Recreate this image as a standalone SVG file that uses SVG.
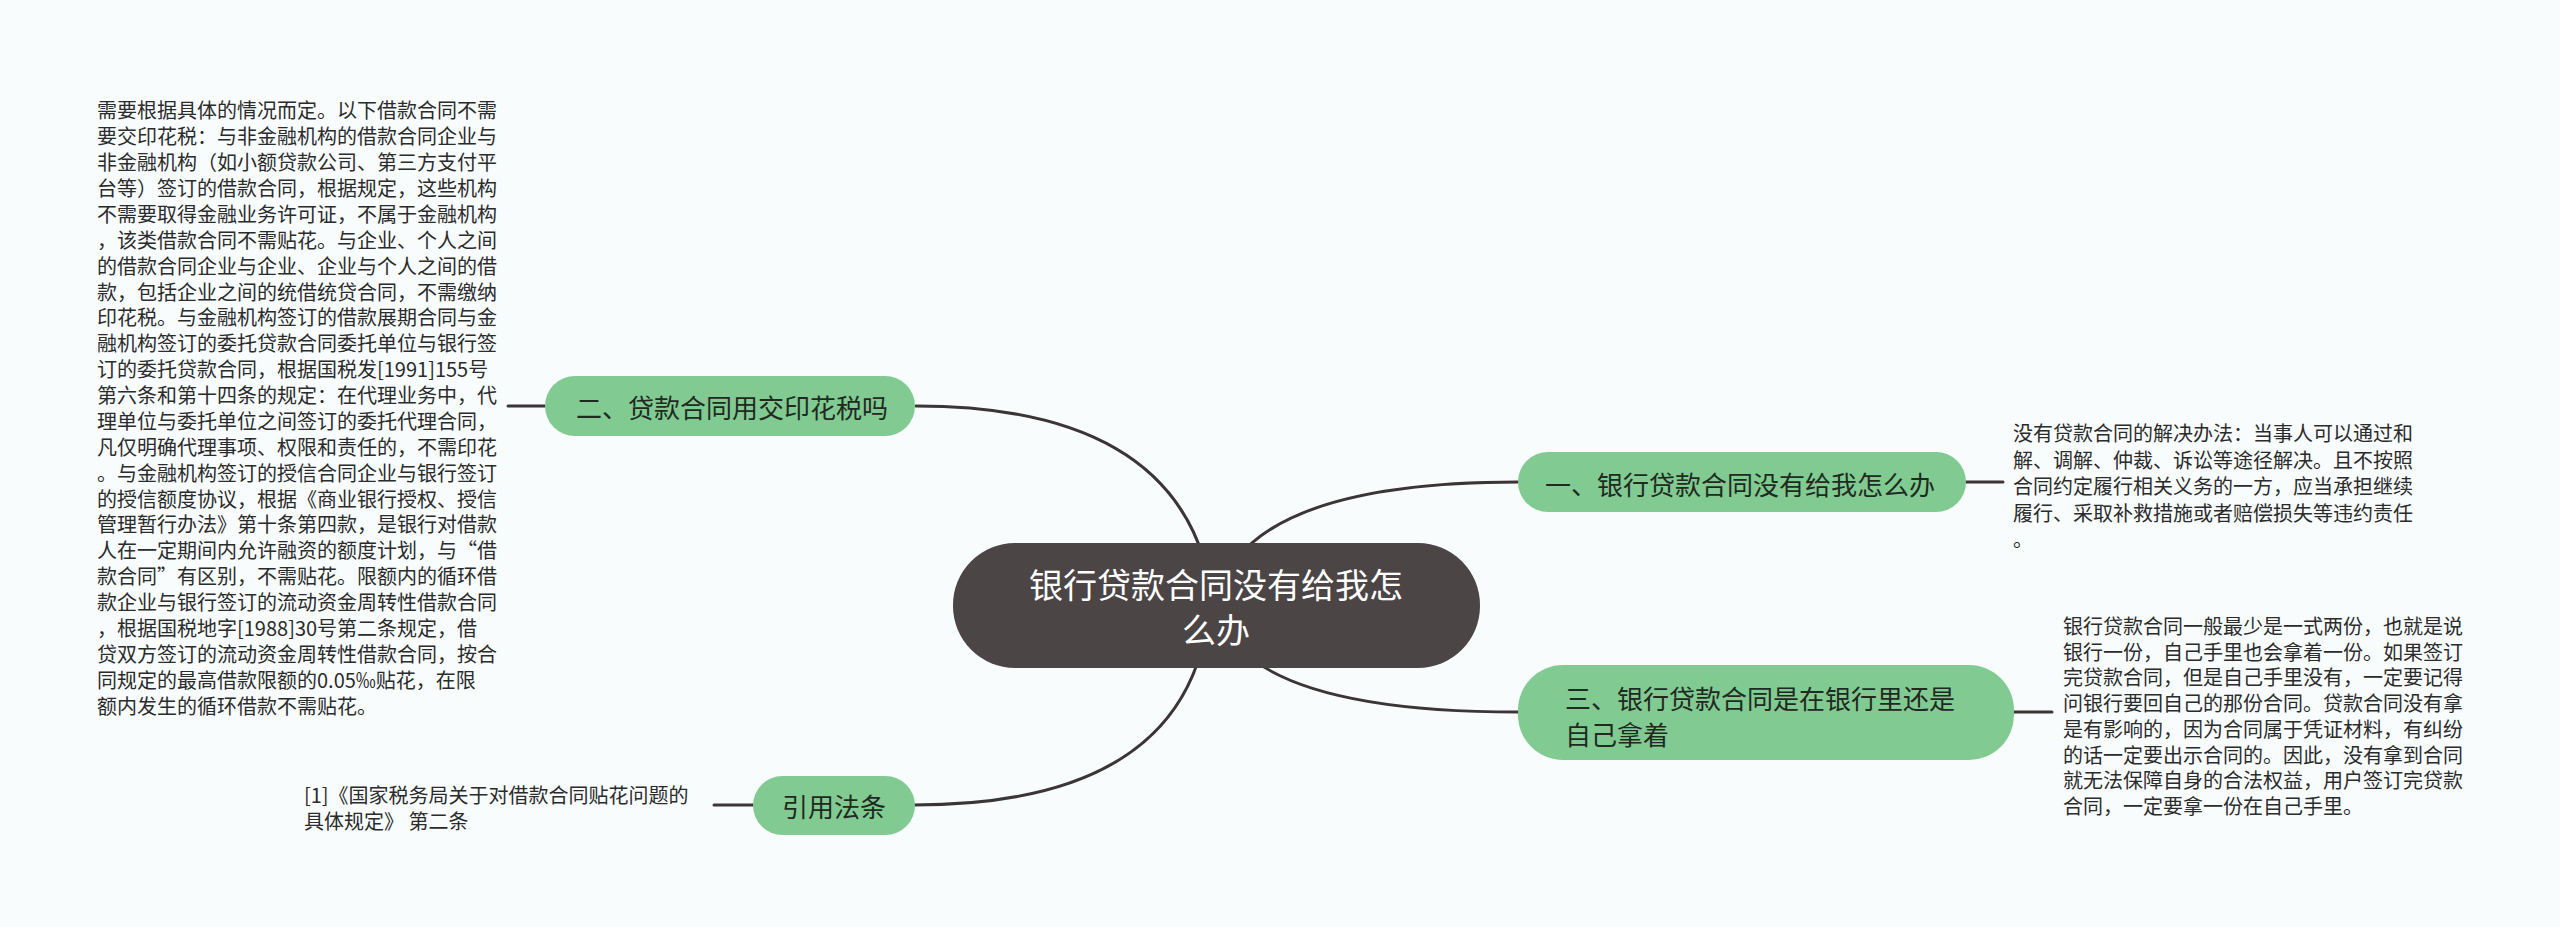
<svg xmlns="http://www.w3.org/2000/svg" width="2560" height="927" viewBox="0 0 2560 927">
<style>
  .bg { fill: #f8fcfd; }
  .conn { fill: none; stroke: #3b3536; stroke-width: 3; stroke-linecap: round; }
  .green { fill: #81cb92; }
  .center { fill: #4b4546; }
  .ntext { font-family: "Noto Sans CJK SC", "Noto Sans", sans-serif; font-size: 26px; fill: #1f2a20; dominant-baseline: central; }
  .ctext { font-family: "Noto Sans CJK SC", "Noto Sans", sans-serif; font-size: 34px; fill: #ffffff; dominant-baseline: central; text-anchor: middle; }
  .small { font-family: "Noto Sans CJK SC", "Noto Sans", sans-serif; font-size: 20px; fill: #2b2b2b; dominant-baseline: central; }
</style>
<rect class="bg" x="0" y="0" width="2560" height="927"/>

<g id="connectors">
  <path class="conn" d="M 916 406 Q 1200 406 1215 620"/>
  <path class="conn" d="M 914 805 Q 1195 805 1210 600"/>
  <path class="conn" d="M 1215 605 Q 1240 482 1518 482"/>
  <path class="conn" d="M 1215 605 Q 1240 712 1518 712"/>
  <line class="conn" x1="508" y1="406" x2="545" y2="406"/>
  <line class="conn" x1="1965" y1="482" x2="2003" y2="482"/>
  <line class="conn" x1="2014" y1="712" x2="2052" y2="712"/>
  <line class="conn" x1="714" y1="805" x2="753" y2="805"/>
</g>

<g id="node-center">
  <rect class="center" x="953" y="543" width="527" height="125" rx="62" ry="62"/>
  <text class="ctext" x="1216" y="583">银行贷款合同没有给我怎</text>
  <text class="ctext" x="1216" y="628">么办</text>
</g>

<g id="node-1">
  <rect class="green" x="1518" y="452" width="448" height="60" rx="30" ry="30"/>
  <text class="ntext" x="1545" y="483">一、银行贷款合同没有给我怎么办</text>
</g>

<g id="node-1-text">
  <text class="small" x="2013" y="432">
    <tspan x="2013" y="432">没有贷款合同的解决办法：当事人可以通过和</tspan>
    <tspan x="2013" y="458.5">解、调解、仲裁、诉讼等途径解决。且不按照</tspan>
    <tspan x="2013" y="485">合同约定履行相关义务的一方，应当承担继续</tspan>
    <tspan x="2013" y="511.5">履行、采取补救措施或者赔偿损失等违约责任</tspan>
    <tspan x="2013" y="538">。</tspan>
  </text>
</g>

<g id="node-2">
  <rect class="green" x="545" y="376" width="370" height="60" rx="30" ry="30"/>
  <text class="ntext" x="576" y="406">二、贷款合同用交印花税吗</text>
</g>

<g id="node-2-text">
  <text class="small" x="97" y="109">
    <tspan x="97" y="109">需要根据具体的情况而定。以下借款合同不需</tspan>
    <tspan x="97" y="135">要交印花税：与非金融机构的借款合同企业与</tspan>
    <tspan x="97" y="161">非金融机构（如小额贷款公司、第三方支付平</tspan>
    <tspan x="97" y="187">台等）签订的借款合同，根据规定，这些机构</tspan>
    <tspan x="97" y="213">不需要取得金融业务许可证，不属于金融机构</tspan>
    <tspan x="97" y="239">，该类借款合同不需贴花。与企业、个人之间</tspan>
    <tspan x="97" y="265">的借款合同企业与企业、企业与个人之间的借</tspan>
    <tspan x="97" y="291">款，包括企业之间的统借统贷合同，不需缴纳</tspan>
    <tspan x="97" y="316">印花税。与金融机构签订的借款展期合同与金</tspan>
    <tspan x="97" y="342">融机构签订的委托贷款合同委托单位与银行签</tspan>
    <tspan x="97" y="368">订的委托贷款合同，根据国税发[1991]155号</tspan>
    <tspan x="97" y="394">第六条和第十四条的规定：在代理业务中，代</tspan>
    <tspan x="97" y="420">理单位与委托单位之间签订的委托代理合同，</tspan>
    <tspan x="97" y="446">凡仅明确代理事项、权限和责任的，不需印花</tspan>
    <tspan x="97" y="472">。与金融机构签订的授信合同企业与银行签订</tspan>
    <tspan x="97" y="498">的授信额度协议，根据《商业银行授权、授信</tspan>
    <tspan x="97" y="523">管理暂行办法》第十条第四款，是银行对借款</tspan>
    <tspan x="97" y="549">人在一定期间内允许融资的额度计划，与“借</tspan>
    <tspan x="97" y="575">款合同”有区别，不需贴花。限额内的循环借</tspan>
    <tspan x="97" y="601">款企业与银行签订的流动资金周转性借款合同</tspan>
    <tspan x="97" y="627">，根据国税地字[1988]30号第二条规定，借</tspan>
    <tspan x="97" y="653">贷双方签订的流动资金周转性借款合同，按合</tspan>
    <tspan x="97" y="679">同规定的最高借款限额的0.05‰贴花，在限</tspan>
    <tspan x="97" y="705">额内发生的循环借款不需贴花。</tspan>
  </text>
</g>

<g id="node-3">
  <rect class="green" x="1518" y="665" width="496" height="95" rx="45" ry="45"/>
  <text class="ntext" x="1565" y="697">三、银行贷款合同是在银行里还是</text>
  <text class="ntext" x="1565" y="733">自己拿着</text>
</g>

<g id="node-3-text">
  <text class="small" x="2063" y="625">
    <tspan x="2063" y="625">银行贷款合同一般最少是一式两份，也就是说</tspan>
    <tspan x="2063" y="651">银行一份，自己手里也会拿着一份。如果签订</tspan>
    <tspan x="2063" y="676">完贷款合同，但是自己手里没有，一定要记得</tspan>
    <tspan x="2063" y="702">问银行要回自己的那份合同。贷款合同没有拿</tspan>
    <tspan x="2063" y="728">是有影响的，因为合同属于凭证材料，有纠纷</tspan>
    <tspan x="2063" y="754">的话一定要出示合同的。因此，没有拿到合同</tspan>
    <tspan x="2063" y="779">就无法保障自身的合法权益，用户签订完贷款</tspan>
    <tspan x="2063" y="805">合同，一定要拿一份在自己手里。</tspan>
  </text>
</g>

<g id="node-4">
  <rect class="green" x="753" y="776" width="162" height="59" rx="29.5" ry="29.5"/>
  <text class="ntext" x="834" y="805" text-anchor="middle">引用法条</text>
</g>

<g id="node-4-text">
  <text class="small" x="304" y="794">
    <tspan x="304" y="794">[1]《国家税务局关于对借款合同贴花问题的</tspan>
    <tspan x="304" y="820">具体规定》 第二条</tspan>
  </text>
</g>
</svg>
